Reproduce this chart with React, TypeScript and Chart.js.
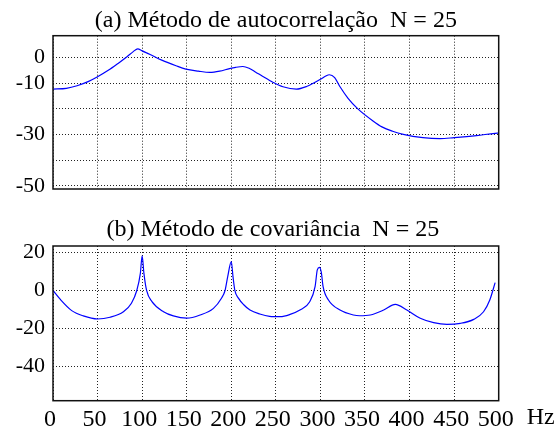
import React, { useEffect, useRef } from "react";
import { Chart, registerables } from "chart.js";

Chart.register(...registerables);

const titleA = "(a) Método de autocorrelação  N = 25";
const titleB = "(b) Método de covariância  N = 25";
const xTicks = [0, 50, 100, 150, 200, 250, 300, 350, 400, 450, 500];
const xUnit = "Hz";

const ticksA = [0, -10, -20, -30, -40, -50];
const labelsA = ["0", "-10", "", "-30", "", "-50"];
const ticksB = [20, 0, -20, -40];
const labelsB = ["20", "0", "-20", "-40"];

const freqA = [0, 15, 27, 40, 50, 62, 73, 83, 90, 95, 100, 109, 122, 138, 149, 163, 176, 187, 198, 205, 213, 220, 227, 235, 247, 258, 273, 285, 292, 300, 306, 310, 316, 322, 331, 342, 359, 369, 381, 393, 415, 434, 450, 475, 496, 500];
const dbA = [-12.3, -12.0, -11.0, -9.3, -7.5, -5.0, -2.3, 0.3, 2.3, 3.4, 2.6, 1.2, -1.0, -3.2, -4.5, -5.3, -5.8, -5.3, -4.3, -3.8, -3.5, -4.2, -5.6, -7.3, -9.7, -11.4, -12.3, -11.2, -10.0, -8.5, -7.2, -6.7, -7.8, -11.4, -15.9, -20.0, -24.7, -27.0, -28.7, -29.9, -31.2, -31.6, -31.2, -30.4, -29.5, -29.4];

const freqB = [0, 8, 21, 34, 50, 64, 79, 88, 94, 98, 100, 102, 105, 111, 124, 135, 150, 165, 180, 189, 193, 196, 200, 202, 204, 208, 214, 221, 232, 243, 255, 266, 277, 288, 294, 296.5, 299, 301, 303, 309, 322, 337, 344, 356, 371, 384, 397, 412, 427, 442, 457, 472, 483, 490, 496];
const dbB = [0, -4.6, -10.6, -13.4, -15.0, -14.1, -11.2, -6.7, 0, 9, 18.2, 9, 0, -5.9, -11.2, -13.4, -14.6, -12.9, -9.4, -4.1, 0, 7.3, 15.2, 7, 0, -4, -7.5, -10.3, -12.4, -13.6, -13.8, -12.6, -10.3, -5.9, 2, 10.8, 12.2, 9.5, 2, -5, -10.3, -12.9, -13.3, -12.9, -10.3, -7.3, -10.3, -14.6, -16.9, -17.8, -17.3, -15.2, -11.2, -5, 4.1];

const FONT = "'Liberation Serif', 'Times New Roman', serif";

function makeConfig(opts: {
  freq: number[];
  db: number[];
  yMin: number;
  yMax: number;
  yTicks: number[];
  yLabels: string[];
  title: string;
  titleBaseline: number;
  titleShift: number;
  top: number;
  xHeight: number;
  showX: boolean;
}): any {
  const framePlugin = {
    id: "frame" + opts.title.length,
    afterDraw(chart: any) {
      const { ctx, chartArea } = chart;
      ctx.save();
      ctx.strokeStyle = "#111";
      ctx.lineWidth = 1.5;
      ctx.strokeRect(chartArea.left, chartArea.top, chartArea.right - chartArea.left, chartArea.bottom - chartArea.top);
      ctx.fillStyle = "#000";
      ctx.font = `24px ${FONT}`;
      ctx.textAlign = "center";
      ctx.textBaseline = "alphabetic";
      ctx.fillText(opts.title, (chartArea.left + chartArea.right) / 2 + opts.titleShift, opts.titleBaseline);
      if (opts.showX) {
        const xs = chart.scales.x;
        ctx.font = `24px ${FONT}`;
        ctx.textAlign = "left";
        ctx.textBaseline = "top";
        ctx.fillText(xUnit, xs.getPixelForValue(500) + 28, chartArea.bottom + 5);
      }
      ctx.restore();
    },
  };
  return {
    type: "line",
    data: {
      datasets: [
        {
          data: opts.freq.map((f, i) => ({ x: f, y: opts.db[i] })),
          borderColor: "rgb(0,0,255)",
          borderWidth: 1.2,
          pointRadius: 0,
          cubicInterpolationMode: "monotone",
          fill: false,
        },
      ],
    },
    options: {
      animation: false,
      responsive: false,
      maintainAspectRatio: false,
      layout: { padding: { left: 0, right: 60.3, top: opts.top, bottom: 0 } },
      plugins: { legend: { display: false }, tooltip: { enabled: false }, title: { display: false } },
      scales: {
        x: {
          type: "linear",
          min: 0,
          max: 500,
          afterBuildTicks: (s: any) => {
            s.ticks = xTicks.map((v) => ({ value: v }));
          },
          afterFit: (s: any) => {
            s.height = opts.xHeight;
            s.paddingLeft = 0;
            s.paddingRight = 0;
          },
          grid: { color: "#222", lineWidth: 1, drawTicks: false },
          border: { display: false, dash: [1, 2] },
          ticks: {
            display: opts.showX,
            padding: 5,
            labelOffset: -3,
            color: "#000",
            font: { family: FONT, size: 24 },
            maxRotation: 0,
            autoSkip: false,
            callback: (v: any) => String(v),
          },
        },
        y: {
          type: "linear",
          min: opts.yMin,
          max: opts.yMax,
          afterBuildTicks: (s: any) => {
            s.ticks = opts.yTicks.map((v) => ({ value: v }));
          },
          afterFit: (s: any) => {
            s.width = 53;
            s.paddingTop = 0;
            s.paddingBottom = 0;
          },
          grid: { color: "#222", lineWidth: 1, drawTicks: false },
          border: { display: false, dash: [1, 2] },
          ticks: {
            padding: 8,
            color: "#000",
            font: { family: FONT, size: 22 },
            autoSkip: false,
            callback: (v: any) => {
              const i = opts.yTicks.indexOf(v);
              return i >= 0 ? opts.yLabels[i] : "";
            },
          },
        },
      },
    },
    plugins: [framePlugin],
  };
}

function ChartCanvas(props: { config: any; top: number; height: number }) {
  const ref = useRef<HTMLCanvasElement | null>(null);
  useEffect(() => {
    if (!ref.current) return;
    const chart = new Chart(ref.current, props.config);
    return () => chart.destroy();
  }, []);
  return (
    <canvas
      ref={ref}
      width={559}
      height={props.height}
      style={{ position: "absolute", left: 0, top: props.top, width: 559, height: props.height }}
    />
  );
}

export default function App() {
  const cfgA = makeConfig({
    freq: freqA,
    db: dbA,
    yMin: -51.2,
    yMax: 8.5,
    yTicks: ticksA,
    yLabels: labelsA,
    title: titleA,
    titleBaseline: 27,
    titleShift: 0,
    top: 35.7,
    xHeight: 11,
    showX: false,
  });
  const cfgB = makeConfig({
    freq: freqB,
    db: dbB,
    yMin: -58,
    yMax: 23.4,
    yTicks: ticksB,
    yLabels: labelsB,
    title: titleB,
    titleBaseline: 36,
    titleShift: -3,
    top: 46,
    xHeight: 32.3,
    showX: true,
  });
  return (
    <div style={{ position: "absolute", left: 0, top: 0, width: 559, height: 433, background: "#fff" }}>
      <ChartCanvas config={cfgA} top={0} height={200} />
      <ChartCanvas config={cfgB} top={200} height={233} />
    </div>
  );
}
